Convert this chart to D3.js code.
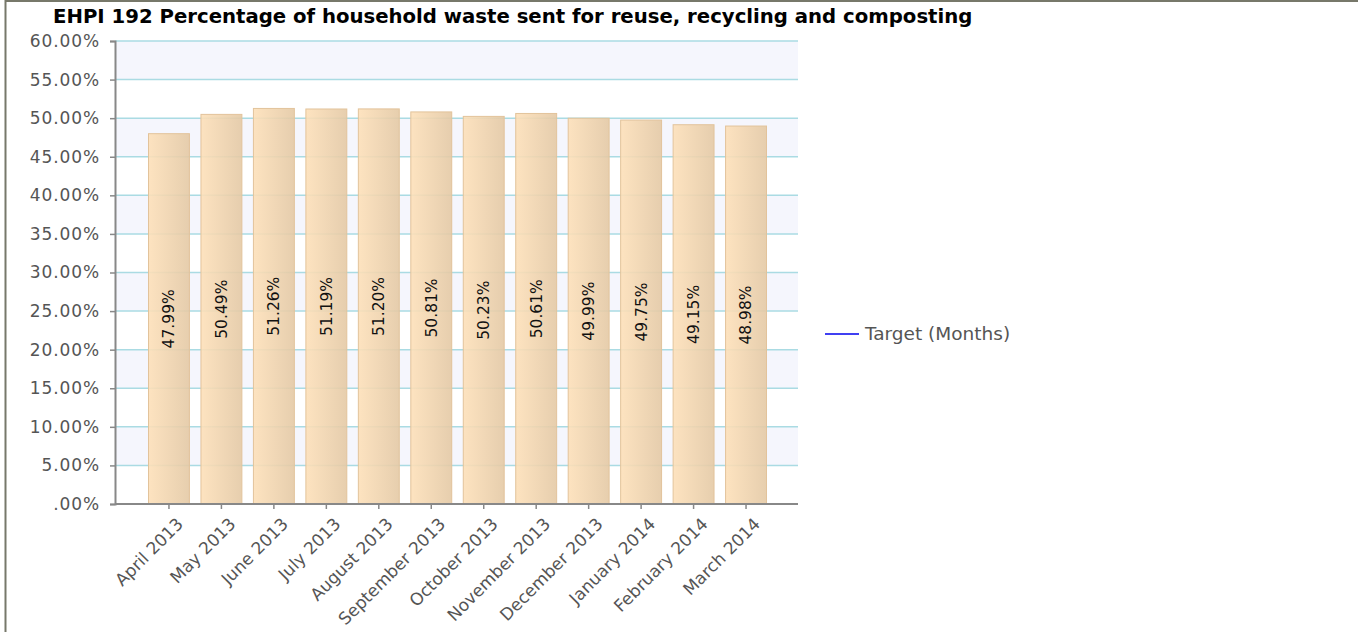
<!DOCTYPE html>
<html>
<head>
<meta charset="utf-8">
<script src="https://cdn.jsdelivr.net/npm/d3@7"></script>
<style>
body { margin: 0; background: #fff; }
svg { display: block; font-family: "DejaVu Sans", Verdana, sans-serif; }
</style>
</head>
<body>
<svg id="chart" width="1358" height="632"></svg>
<script>
// months and values
var months = ["April 2013", "May 2013", "June 2013", "July 2013", "August 2013",
  "September 2013", "October 2013", "November 2013", "December 2013",
  "January 2014", "February 2014", "March 2014"];
var values = [47.99, 50.49, 51.26, 51.19, 51.20, 50.81, 50.23, 50.61, 49.99, 49.75, 49.15, 48.98];
var yTicks = [0, 5, 10, 15, 20, 25, 30, 35, 40, 45, 50, 55, 60];
var title = "EHPI 192 Percentage of household waste sent for reuse, recycling and composting";
var legendLabel = "Target (Months)";

var svg = d3.select("#chart");
var plotLeft = 115, plotRight = 798, plotTop = 41, plotBottom = 504;

var x = d3.scaleBand().domain(months).range([148.5, 766.5]).paddingInner(0.22).paddingOuter(0);
var y = d3.scaleLinear().domain([0, 60]).range([plotBottom, plotTop]);

var fmt = function(v){
    var s = d3.format(".2f")(v);
    if (v == 0) { s = s.replace(/^0/, ""); }
    return s + "%";
};

// frame
svg.append("line").attr("x1", 5.5).attr("x2", 5.5).attr("y1", 0).attr("y2", 632)
    .attr("stroke", "#77786a").attr("stroke-width", 2);
svg.append("line").attr("x1", 5).attr("x2", 1358).attr("y1", 1).attr("y2", 1)
    .attr("stroke", "#77786a").attr("stroke-width", 2);

// alternating bands
var bands = yTicks.slice(0, -1).filter(function(d){ return (d / 5) % 2 == 1; });
svg.append("g").selectAll("rect").data(bands).enter().append("rect")
    .attr("x", plotLeft).attr("width", plotRight - plotLeft)
    .attr("y", function(d){ return y(d + 5); })
    .attr("height", function(d){ return y(d) - y(d + 5); })
    .attr("fill", "#f5f6fd");

// grid lines
svg.append("g").selectAll("line").data(yTicks.slice(1)).enter().append("line")
    .attr("x1", plotLeft).attr("x2", plotRight)
    .attr("y1", function(d){ return y(d); }).attr("y2", function(d){ return y(d); })
    .attr("stroke", "#aadbe3").attr("stroke-width", 1.5);

// bar gradient
var grad = svg.append("defs").append("linearGradient").attr("id", "barGrad")
    .attr("x1", "0%").attr("x2", "100%").attr("y1", "0%").attr("y2", "0%");
grad.append("stop").attr("offset", "0%").attr("stop-color", "#fde0b9");
grad.append("stop").attr("offset", "100%").attr("stop-color", "#e4c9a5");

// bars are a bit see-through, grid shows faintly
svg.append("g").selectAll("rect").data(values).enter().append("rect")
    .attr("x", function(d, i){ return x(months[i]); })
    .attr("width", x.bandwidth())
    .attr("y", function(d){ return y(d); })
    .attr("height", function(d){ return plotBottom - y(d); })
    .attr("fill", "url(#barGrad)").attr("fill-opacity", 0.9)
    .attr("stroke", "#e2c39b").attr("stroke-width", 1);

// value labels
svg.append("g").selectAll("text").data(values).enter().append("text")
    .attr("transform", function(d, i){
        var cx = x(months[i]) + x.bandwidth() / 2;
        var cy = (y(d) + plotBottom) / 2;
        return "translate(" + cx + "," + cy + ") rotate(-90)";
    })
    .attr("text-anchor", "middle").attr("dy", "0.35em")
    .attr("font-size", 15.5).attr("fill", "#111")
    .text(function(d){ return d.toFixed(2) + "%"; });

// y axis
var yAxis = svg.append("g").attr("transform", "translate(" + plotLeft + ",0)")
    .call(d3.axisLeft(y).tickValues(yTicks).tickFormat(fmt).tickSize(5).tickPadding(10));
yAxis.select(".domain").attr("stroke", "#888").attr("stroke-width", 2);
yAxis.selectAll(".tick line").attr("stroke", "#888").attr("stroke-width", 1.5);
yAxis.selectAll(".tick text").attr("font-size", 17).attr("fill", "#555")
    .attr("letter-spacing", 0.9).attr("font-family", "DejaVu Sans, sans-serif");

// x axis
var xAxis = svg.append("g").attr("transform", "translate(0," + plotBottom + ")")
    .call(d3.axisBottom(x).tickSize(5).tickSizeOuter(0));
xAxis.select(".domain").attr("stroke", "#888").attr("stroke-width", 2)
    .attr("d", "M" + plotLeft + ",0H" + plotRight);
xAxis.selectAll(".tick line").attr("stroke", "#888").attr("stroke-width", 1.5);
xAxis.selectAll(".tick text").attr("font-size", 17).attr("fill", "#555")
    .attr("font-family", "DejaVu Sans, sans-serif")
    .attr("text-anchor", "end")
    .attr("transform", "translate(11,17) rotate(-45)")
    .attr("dy", "0.35em").attr("y", 0).attr("x", 0);

// title
svg.append("text").attr("x", 53).attr("y", 23)
    .attr("font-size", 19.7).attr("font-weight", "bold").attr("fill", "#000")
    .text(title);

// legend
svg.append("line").attr("x1", 825).attr("x2", 859).attr("y1", 334).attr("y2", 334)
    .attr("stroke", "#0000ee").attr("stroke-width", 1.5);
svg.append("text").attr("x", 865).attr("y", 340).attr("font-size", 18.5)
    .attr("fill", "#555").text(legendLabel);
</script>
</body>
</html>
